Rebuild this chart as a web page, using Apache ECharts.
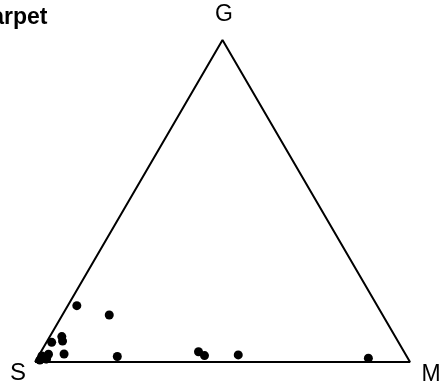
<!DOCTYPE html>
<html>
<head>
<meta charset="utf-8">
<script src="https://cdn.jsdelivr.net/npm/echarts@6/dist/echarts.min.js"></script>
<style>
  html, body { margin: 0; padding: 0; background: #fff; }
  #chart { width: 442px; height: 390px; }
</style>
</head>
<body>
<div id="chart"></div>
<script>
  // ternary samples: percent gravel (G) and mud (M), sand (S) is the rest
  let gravel = [17.5, 14.6, 7.9, 6.5, 6.1, 2.5, 2.4, 1.3, 0.6, 1.9, 0.9, 1.0, 1.7, 3.2, 2.0, 2.2, 1.2]
  let mud = [2.4, 12.5, 3.2, 4.1, 1.4, 6.5, 2.4, 1.7, 1.0, 0.9, 2.5, 2.6, 21.1, 42.0, 44.2, 53.1, 88.3]
  let vertexNames = ['S', 'M', 'G']
  let titleText = 'Carpet'

  const H = Math.sqrt(3) / 2
  // convert ternary to x,y (S at 0,0  M at 1,0  G at 0.5,H)
  function toXY(g, m) {
    g = g / 100
    m = m / 100
    return [m + g / 2, g * H]
  }

  let points = gravel.map((g, i) => toXY(g, mud[i]))
  let outline = [[0, 0], [1, 0], [0.5, H], [0, 0]]

  function label(text, x, y, size, weight, align) {
    return {
      type: 'text',
      style: {
        x: x, y: y, text: text,
        fontSize: size, fontWeight: weight, fontFamily: 'Liberation Sans', fill: '#000',
        align: align || 'center', verticalAlign: 'middle'
      }
    }
  }

  let chart = echarts.init(document.getElementById('chart'))
  let option = {
    backgroundColor: '#fff',
    animation: false,
    grid: { left: 35, top: 40, width: 375, height: 322 },
    xAxis: { type: 'value', min: 0, max: 1, show: false },
    yAxis: { type: 'value', min: 0, max: H, show: false },
    graphic: [
      label(titleText, 47.5, 18, 23, 'bold', 'right'),
      label(vertexNames[2], 224, 14.5, 23, 'normal'),
      label(vertexNames[0], 18, 373.5, 24, 'normal'),
      label(vertexNames[1], 431, 375, 23, 'normal')
    ],
    series: [
      {
        type: 'line',
        data: outline,
        symbol: 'none',
        lineStyle: { color: '#000', width: 2 },
        z: 1
      },
      {
        type: 'scatter',
        data: points,
        symbolSize: 9,
        itemStyle: { color: '#000', opacity: 1 },
        z: 2
      }
    ]
  }
  chart.setOption(option)
  window.addEventListener('resize', function () {
    chart.resize()
  })
</script>
</body>
</html>
